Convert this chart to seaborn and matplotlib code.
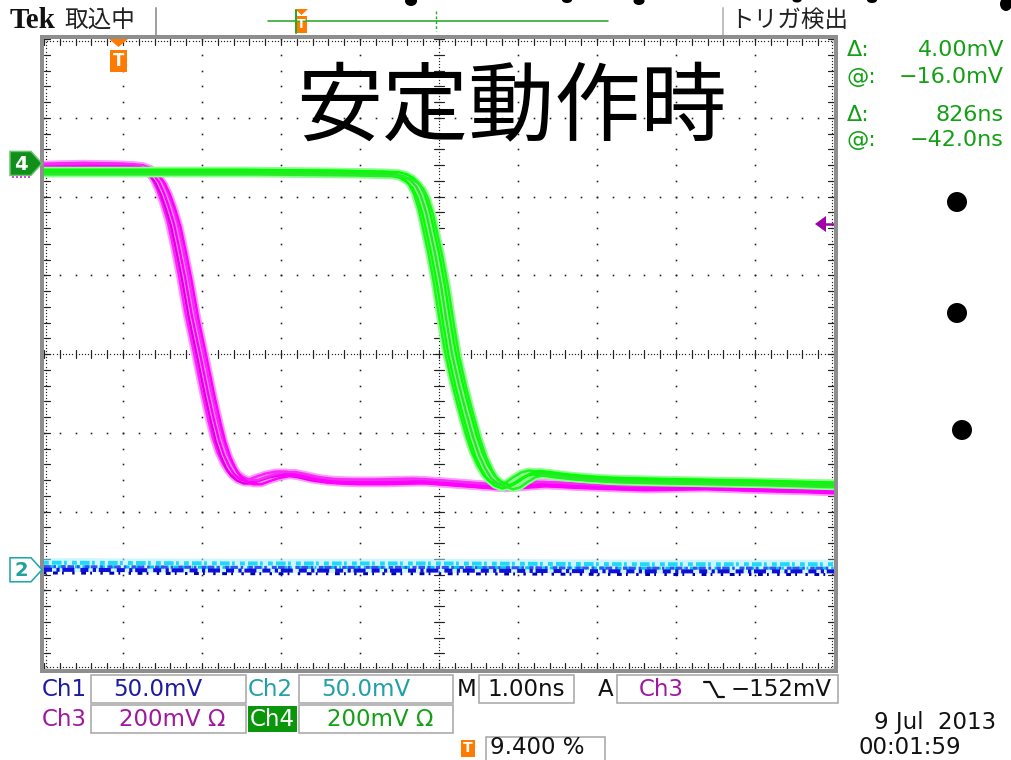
import numpy as np
import pandas as pd
import matplotlib
matplotlib.use("Agg")
import matplotlib.pyplot as plt
from matplotlib.patches import Rectangle, Polygon, Ellipse
from matplotlib.lines import Line2D
import seaborn as sns

# ---------------------------------------------------------------------------
# Waveform readings: time in divisions (1.00 ns/div), level in divisions
# ---------------------------------------------------------------------------
ch3_time = [0.000, 0.582, 1.089, 1.215, 1.316, 1.392, 1.456, 1.519, 1.582,
            1.646, 1.709, 1.785, 1.873, 1.975, 2.076, 2.152, 2.215, 2.278,
            2.342, 2.405, 2.481, 2.570, 2.671, 2.772, 2.886, 3.013, 3.139,
            3.266, 3.430, 3.620, 3.900, 4.253, 4.759, 5.266, 5.772, 6.278,
            6.785, 7.544, 8.304, 9.063, 9.570, 10.000]
ch3_level = [2.386, 2.398, 2.386, 2.373, 2.335, 2.272, 2.183, 2.043, 1.865,
             1.650, 1.358, 0.977, 0.482, 0.000, -0.495, -0.838, -1.091,
             -1.282, -1.421, -1.523, -1.586, -1.624, -1.624, -1.586, -1.548,
             -1.523, -1.523, -1.548, -1.586, -1.612, -1.624, -1.624, -1.612,
             -1.650, -1.688, -1.650, -1.675, -1.701, -1.688, -1.713, -1.726,
             -1.739]

ch4_time = [0.000, 1.342, 2.608, 3.873, 4.443, 4.544, 4.633, 4.709, 4.772,
            4.835, 4.886, 4.949, 5.025, 5.089, 5.165, 5.253, 5.342, 5.430,
            5.506, 5.582, 5.658, 5.747, 5.848, 5.937, 6.025, 6.127, 6.228,
            6.354, 6.532, 6.785, 7.165, 7.671, 8.304, 9.063, 10.000]
ch4_level = [2.310, 2.310, 2.310, 2.297, 2.284, 2.259, 2.208, 2.132, 2.005,
             1.802, 1.574, 1.282, 0.876, 0.457, 0.000, -0.393, -0.736,
             -1.053, -1.282, -1.447, -1.574, -1.650, -1.688, -1.662, -1.599,
             -1.536, -1.510, -1.523, -1.548, -1.574, -1.599, -1.612, -1.624,
             -1.637, -1.662]

ch1_time = [0.0, 2.5, 5.0, 7.5, 10.0]
ch1_level = [-2.74, -2.75, -2.75, -2.76, -2.76]
ch2_time = [0.0, 2.5, 5.0, 7.5, 10.0]
ch2_level = [-2.68, -2.69, -2.69, -2.70, -2.70]

ch4_marker_level = 2.42
ch2_marker_level = -2.74

# ---------------------------------------------------------------------------
# Readouts and labels
# ---------------------------------------------------------------------------
title_text = "安定動作時"
status_text = "取込中"
trigger_state = "トリガ検出"
cursor_labels = ["Δ:", "@:", "Δ:", "@:"]
cursor_values = ["4.00mV", "−16.0mV", "826ns", "−42.0ns"]
channel_names = ["Ch1", "Ch2", "Ch3", "Ch4"]
channel_scales = ["50.0mV", "50.0mV", "200mV Ω", "200mV Ω"]
timebase = "1.00ns"
trigger_source = "Ch3"
trigger_level = "−152mV"
trigger_position = "9.400 %"
date_text = "9 Jul  2013"
clock_text = "00:01:59"

# ---------------------------------------------------------------------------
sns.set_style("white")
plt.rcParams["font.family"] = ["DejaVu Sans", "Noto Sans CJK JP"]

W, H = 1011, 760
fig = plt.figure(figsize=(W / 100, H / 100), dpi=100)
fig.patch.set_facecolor("white")


def fx(x):
    return x / W


def fy(y):
    return 1 - y / H


def pt(px):
    return px * 72 / 100


def ftext(x, y, s, **kw):
    kw.setdefault("va", "center")
    kw.setdefault("zorder", 20)
    return fig.text(fx(x), fy(y), s, **kw)


def frect(x0, y0, x1, y1, **kw):
    r = Rectangle((fx(x0), fy(y1)), (x1 - x0) / W, (y1 - y0) / H,
                  transform=fig.transFigure, **kw)
    fig.add_artist(r)
    return r


def fpoly(pts, **kw):
    p = Polygon([(fx(x), fy(y)) for x, y in pts], closed=True,
                transform=fig.transFigure, **kw)
    fig.add_artist(p)
    return p


def fline(xs, ys, **kw):
    ln = Line2D([fx(x) for x in xs], [fy(y) for y in ys],
                transform=fig.transFigure, **kw)
    fig.add_artist(ln)
    return ln


# Graticule axes: 10 x 8 divisions
ax = fig.add_axes([fx(44), fy(669), 790 / W, 630 / H])
ax.set_xlim(0, 10)
ax.set_ylim(-4, 4)
ax.axis("off")

# --- graticule dots ---------------------------------------------------------
dot_kw = dict(ls="none", marker="s", ms=pt(1.6), mew=0, color="#1e1e1e",
              zorder=1)
minor_x = np.round(np.arange(0, 10.001, 0.2), 3)
minor_y = np.round(np.arange(-4, 4.001, 0.2), 3)
for gx in range(1, 10):
    if gx != 5:
        ax.plot(np.full_like(minor_y, gx), minor_y, **dot_kw)
for gy in range(-3, 4):
    if gy != 0:
        ax.plot(minor_x, np.full_like(minor_x, gy), **dot_kw)

dense_x = np.arange(0, 10.001, 0.04)
dense_y = np.arange(-4, 4.001, 0.04)
dense_kw = dict(ls="none", marker="s", ms=pt(1.2), mew=0, color="#222222",
                zorder=1)
ax.plot(dense_x, np.zeros_like(dense_x), **dense_kw)
ax.plot(np.full_like(dense_y, 5.0), dense_y, **dense_kw)
for xv in minor_x:
    ax.plot([xv, xv], [-0.05, 0.05], color="#222222", lw=pt(1.2), zorder=1)
for yv in minor_y:
    ax.plot([4.94, 5.06], [yv, yv], color="#222222", lw=pt(1.2), zorder=1)

# border ticks
for xv in minor_x:
    ax.plot([xv, xv], [4, 3.93], color="#222222", lw=pt(1.2), zorder=1)
    ax.plot([xv, xv], [-4, -3.93], color="#222222", lw=pt(1.2), zorder=1)
for yv in minor_y:
    ax.plot([0, 0.07], [yv, yv], color="#222222", lw=pt(1.2), zorder=1)
    ax.plot([10, 9.93], [yv, yv], color="#222222", lw=pt(1.2), zorder=1)
ax.plot(dense_x, np.full_like(dense_x, 3.97), **dense_kw)
ax.plot(dense_x, np.full_like(dense_x, -3.97), **dense_kw)
ax.plot(np.full_like(dense_y, 0.03), dense_y, **dense_kw)
ax.plot(np.full_like(dense_y, 9.97), dense_y, **dense_kw)


# --- traces -------------------------------------------------------------------
def persistence(t, v, halo, strands, z):
    """Overlay several slightly shifted acquisitions of one waveform."""
    t = np.asarray(t, float)
    v = np.asarray(v, float)
    shifted = []
    for (dt, dv), col in strands:
        tt = t + dt
        tt[0], tt[-1] = t[0], t[-1]
        shifted.append((tt, v + dv, col))
    for tt, vv, _ in shifted:
        df = pd.DataFrame({"time": tt, "level": vv})
        sns.lineplot(data=df, x="time", y="level", ax=ax, color=halo,
                     lw=pt(6), estimator=None, sort=False, legend=False,
                     zorder=z, solid_joinstyle="round",
                     solid_capstyle="butt")
    for tt, vv, col in shifted:
        sns.lineplot(x=tt, y=vv, ax=ax, color=col, lw=pt(2.4),
                     estimator=None, sort=False, legend=False, zorder=z + 0.1,
                     solid_joinstyle="round")


# Ch1 / Ch2 noisy baselines
sns.lineplot(x=ch2_time, y=ch2_level, ax=ax, color="#a8efff", lw=pt(14),
             estimator=None, sort=False, legend=False, zorder=2, alpha=0.55)
noise_layers = [
    (ch2_time, ch2_level, 0.03, "#20d8f8", 4, [1.2, 0.8, 2.4, 0.6, 0.7, 1.3]),
    (ch2_time, ch2_level, -0.02, "#00c8e8", 3, [0.6, 1.5, 1.8, 0.7, 2.6, 1.0]),
    (ch1_time, ch1_level, 0.04, "#3a50f0", 3, [2.2, 1.0, 0.8, 1.8, 1.4, 0.6]),
    (ch1_time, ch1_level, 0.0, "#1010d8", 4, [2.0, 1.1, 0.8, 0.7, 3.0, 1.5]),
    (ch1_time, ch1_level, -0.04, "#0000b0", 3, [0.8, 2.2, 1.6, 1.4, 0.6, 2.8]),
]
for tt, vv, dv, col, w, dashes in noise_layers:
    sns.lineplot(x=tt, y=np.asarray(vv) + dv, ax=ax, color=col, lw=pt(w),
                 estimator=None, sort=False, legend=False, zorder=2.2)
    ax.lines[-1].set_dashes(dashes)

# Ch3 (magenta) and Ch4 (green) persistence bands
persistence(ch3_time, ch3_level, "#ff98ff",
            [((-0.08, 0.03), "#ff20ff"), ((-0.04, -0.02), "#e000e0"),
             ((0.0, 0.0), "#ff00ff"), ((0.04, 0.025), "#f030f0"),
             ((0.08, -0.03), "#ff00ff")], 3)
persistence(ch4_time, ch4_level, "#8cff8c",
            [((-0.09, 0.03), "#22ee22"), ((-0.045, -0.02), "#00ff00"),
             ((0.0, 0.0), "#30e030"), ((0.045, 0.025), "#00ff00"),
             ((0.09, -0.03), "#22f022")], 4)

# --- graticule frame ---------------------------------------------------------
frect(42, 37, 836, 671, fill=False, ec="#8e8e8e", lw=pt(4), zorder=6)

# channel reference markers
to_fig = lambda yv: (ax.transData.transform((0, yv))[1])
y4 = H - to_fig(ch4_marker_level)
y2 = H - to_fig(ch2_marker_level)
fpoly([(10, y4 - 12), (31, y4 - 12), (42, y4), (31, y4 + 12), (10, y4 + 12)],
      fc="#10901a", ec="#6cc46c", lw=pt(1.5), zorder=7)
ftext(21, y4 + 1, "4", color="white", ha="center", fontsize=14,
      fontweight="bold")
fline([12, 30], [y4 + 14, y4 + 14], color="#e040e0", lw=pt(2), ls=(0, (1, 1)))
fpoly([(10, y2 - 12), (31, y2 - 12), (42, y2), (31, y2 + 12), (10, y2 + 12)],
      fc="white", ec="#20a8a8", lw=pt(1.6), zorder=7)
ftext(21, y2 + 1, "2", color="#20a0a0", ha="center", fontsize=14,
      fontweight="bold")

# trigger level arrow (right edge)
fpoly([(815, 224), (826, 216), (826, 232)], fc="#a000a8", ec="none")
fline([824, 834], [224, 224], color="#a000a8", lw=pt(2.5))

# trigger position marker (top of graticule)
fpoly([(109, 39), (128, 39), (118.5, 47)], fc="#ff7a00", ec="none", zorder=8)
frect(110, 50, 127, 72, fc="#ff7a00", ec="none", zorder=8)
ftext(118.5, 61, "T", color="white", ha="center", fontsize=12,
      fontweight="bold")

# --- top status bar ----------------------------------------------------------
ftext(10, 20, "Tek", family="Liberation Serif", fontweight="bold",
      fontsize=21, color="#111111")
ftext(64, 20, status_text, family="Noto Sans CJK JP", fontsize=17,
      color="#222222")
fline([156, 156], [8, 35], color="#a0a0a0", lw=pt(2))
fline([723, 723], [8, 35], color="#c0c0c0", lw=pt(2))
ftext(730, 20, trigger_state, family="Noto Sans CJK JP", fontsize=17,
      color="#222222")
fline([268, 608], [21, 21], color="#2aa82a", lw=pt(1.6))
fline([436, 436], [11, 31], color="#2aa82a", lw=pt(1.4), ls=(0, (2, 1.5)))
fline([296, 296], [10, 33], color="#2aa82a", lw=pt(2))
fpoly([(295, 9), (308, 9), (301.5, 15)], fc="#ff7a00", ec="none")
frect(296, 16, 307, 33, fc="#ff7a00", ec="none")
ftext(301.5, 25, "T", color="white", ha="center", fontsize=9,
      fontweight="bold")

# partial slide strokes along the top edge
for cx, cy, w, h in [(411, 1, 12, 10), (567, 0, 10, 6), (639, 1, 11, 8),
                     (797, 0, 9, 5), (872, 0, 10, 6), (1006, 4, 12, 14)]:
    fig.add_artist(Ellipse((fx(cx), fy(cy)), w / W, h / H,
                           transform=fig.transFigure, fc="black", ec="none"))

# --- slide title and bullets --------------------------------------------------
ftext(511, 110, title_text, family="Noto Sans CJK JP", fontsize=62,
      ha="center", color="black")
for bx, by in [(957, 202), (957, 313), (962, 430)]:
    fig.add_artist(Ellipse((fx(bx), fy(by)), 20 / W, 20 / H,
                           transform=fig.transFigure, fc="black", ec="none"))

# --- cursor readouts -----------------------------------------------------------
readout_green = "#14a014"
for (lab, val), yy in zip(zip(cursor_labels, cursor_values), [50, 77, 115, 140]):
    ftext(847, yy, lab, color=readout_green, fontsize=16)
    ftext(1004, yy, val, color=readout_green, fontsize=16, ha="right")

# --- bottom channel bar -------------------------------------------------------
box_kw = dict(fill=False, ec="#a8a8a8", lw=pt(1.6))
frect(91, 675, 246, 703, **box_kw)
frect(299, 675, 453, 703, **box_kw)
frect(479, 675, 574, 703, **box_kw)
frect(617, 675, 838, 703, **box_kw)
frect(91, 705, 246, 733, **box_kw)
frect(299, 705, 453, 733, **box_kw)
frect(486, 737, 605, 762, **box_kw)

ch_colors = ["#1c1ca0", "#20a0a8", "#a018a0", "#14a014"]
fs = 16.5
ftext(42, 689, channel_names[0], color=ch_colors[0], fontsize=fs)
ftext(158, 689, channel_scales[0], color=ch_colors[0], fontsize=fs,
      ha="center")
ftext(248, 689, channel_names[1], color=ch_colors[1], fontsize=fs)
ftext(366, 689, channel_scales[1], color=ch_colors[1], fontsize=fs,
      ha="center")
ftext(457, 689, "M", color="#111111", fontsize=fs)
ftext(526, 689, timebase, color="#111111", fontsize=fs, ha="center")
ftext(606, 689, "A", color="#111111", fontsize=fs, ha="center")
ftext(639, 689, trigger_source, color=ch_colors[2], fontsize=fs)
fline([704, 710, 718, 724], [682, 682, 697, 697], color="#111111",
      lw=pt(2.2))
ftext(731, 689, trigger_level, color="#111111", fontsize=fs)

ftext(42, 719, channel_names[2], color=ch_colors[2], fontsize=fs)
ftext(172, 719, channel_scales[2], color=ch_colors[2], fontsize=fs,
      ha="center")
frect(248, 706, 297, 732, fc="#0a960a", ec="none")
ftext(272.5, 719, channel_names[3], color="white", fontsize=fs, ha="center")
ftext(380, 719, channel_scales[3], color=ch_colors[3], fontsize=fs,
      ha="center")

frect(461, 740, 475, 757, fc="#ff7a00", ec="none")
ftext(468, 748.5, "T", color="white", fontsize=10, fontweight="bold",
      ha="center")
ftext(490, 748, trigger_position, color="#111111", fontsize=fs)
ftext(874, 722, date_text, color="#111111", fontsize=fs)
ftext(859, 747, clock_text, color="#111111", fontsize=fs)

fig.savefig("out.png", dpi=100, facecolor="white")
